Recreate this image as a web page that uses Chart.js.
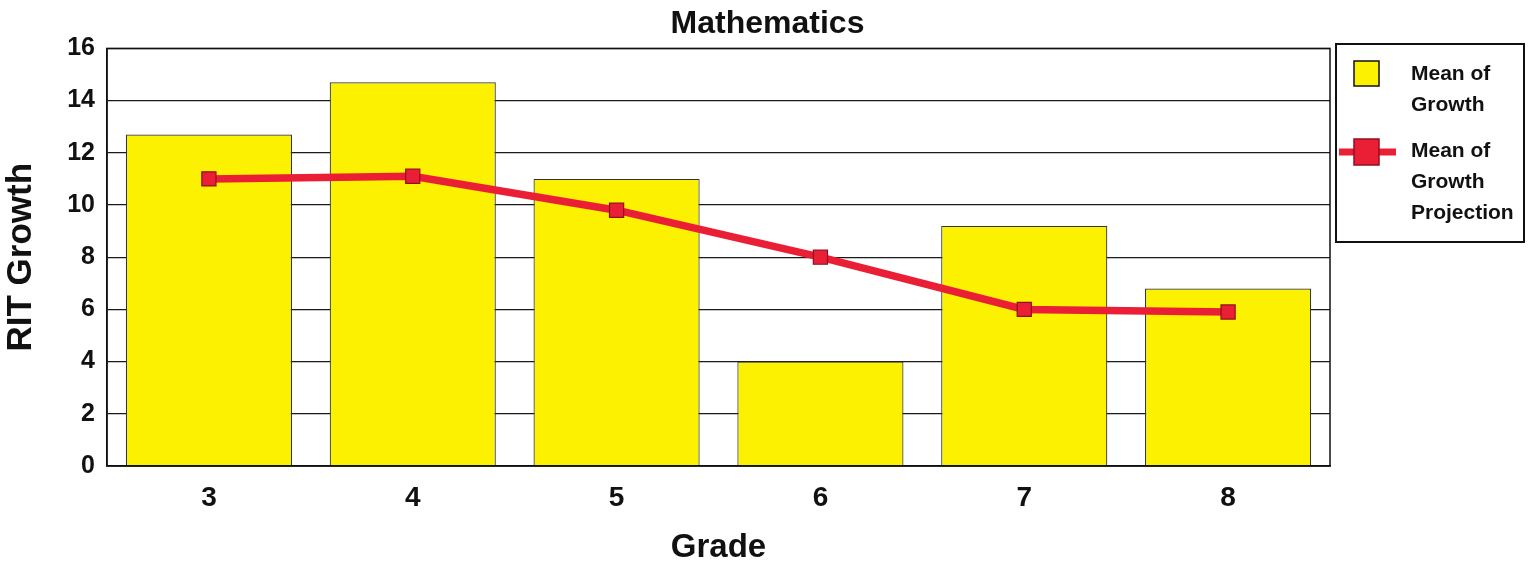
<!DOCTYPE html>
<html>
<head>
<meta charset="utf-8">
<script src="https://cdn.jsdelivr.net/npm/chart.js@4/dist/chart.umd.min.js"></script>
<style>
  html, body { margin: 0; padding: 0; background: #fff; }
  #wrap { width: 1535px; height: 565px; }
</style>
</head>
<body>
<div id="wrap"><canvas id="mathChart" width="1535" height="565"></canvas></div>
<script>
const grades = ['3', '4', '5', '6', '7', '8'];
const meanGrowth = [12.7, 14.7, 11.0, 4.0, 9.2, 6.8];
const meanProjection = [11.0, 11.1, 9.8, 8.0, 6.0, 5.9];
const yTickValues = [0, 2, 4, 6, 8, 10, 12, 14, 16];
const seriesNames = ['Mean of Growth', 'Mean of Growth Projection'];
const legendLines = [['Mean of', 'Growth'], ['Mean of', 'Growth', 'Projection']];

const FONT = '"Liberation Sans", Arial, sans-serif';
const YELLOW = '#fbf100';
const RED = '#ea1f35';

const whiteBg = {
  id: 'whiteBg',
  beforeDraw(chart) {
    const ctx = chart.ctx;
    ctx.save();
    ctx.fillStyle = '#fff';
    ctx.fillRect(0, 0, chart.width, chart.height);
    ctx.restore();
  }
};

// box round the plot and the boxed legend on the right
const frameAndLegend = {
  id: 'frameAndLegend',
  afterDraw(chart) {
    const ctx = chart.ctx;
    const a = chart.chartArea;
    ctx.save();
    ctx.strokeStyle = '#111';
    ctx.lineWidth = 1.5;
    ctx.strokeRect(a.left, a.top, a.right - a.left, a.bottom - a.top);

    const bx = a.right + 6, by = 44, bw = 188, bh = 198;
    ctx.lineWidth = 2;
    ctx.strokeRect(bx, by, bw, bh);

    ctx.font = 'bold 21px ' + FONT;
    ctx.fillStyle = '#111';
    ctx.textBaseline = 'middle';
    ctx.textAlign = 'left';
    const textX = bx + 75;
    const starts = [74, 151];
    chart.data.datasets.forEach((ds) => {
      const idx = seriesNames.indexOf(ds.label);
      const cy = starts[idx];
      if (ds.type === 'line') {
        ctx.strokeStyle = ds.borderColor;
        ctx.lineWidth = 7;
        ctx.beginPath();
        ctx.moveTo(bx + 3, cy + 1);
        ctx.lineTo(bx + 60, cy + 1);
        ctx.stroke();
        ctx.fillStyle = ds.pointBackgroundColor;
        ctx.fillRect(bx + 18, cy - 12, 25, 26);
        ctx.strokeStyle = ds.pointBorderColor;
        ctx.lineWidth = 1.5;
        ctx.strokeRect(bx + 18, cy - 12, 25, 26);
      } else {
        ctx.fillStyle = ds.backgroundColor;
        ctx.fillRect(bx + 18, cy - 13, 25, 25);
        ctx.strokeStyle = '#111';
        ctx.lineWidth = 1.5;
        ctx.strokeRect(bx + 18, cy - 13, 25, 25);
      }
      ctx.fillStyle = '#111';
      legendLines[idx].forEach((t, j) => {
        ctx.fillText(t, textX, cy + j * 31);
      });
    });
    ctx.restore();
  }
};

new Chart(document.getElementById('mathChart'), {
  data: {
    labels: grades,
    datasets: [
      {
        type: 'line',
        label: seriesNames[1],
        data: meanProjection,
        order: 0,
        borderColor: RED,
        borderWidth: 7.5,
        pointStyle: 'rect',
        pointRadius: 10,
        pointBackgroundColor: RED,
        pointBorderColor: '#8e1020',
        pointBorderWidth: 1.2,
        tension: 0
      },
      {
        type: 'bar',
        label: seriesNames[0],
        data: meanGrowth,
        order: 1,
        backgroundColor: YELLOW,
        borderColor: '#333',
        borderWidth: 1.2,
        barPercentage: 0.815,
        categoryPercentage: 1
      }
    ]
  },
  options: {
    responsive: false,
    devicePixelRatio: 1,
    animation: false,
    layout: { padding: 0 },
    plugins: {
      legend: { display: false },
      tooltip: { enabled: false },
      title: {
        display: true,
        text: 'Mathematics',
        color: '#111',
        font: { family: FONT, size: 32, weight: 'bold', lineHeight: 1.2 },
        padding: { top: 5, bottom: 5 }
      }
    },
    scales: {
      x: {
        grid: { display: false, drawTicks: false },
        border: { display: true, color: '#111', width: 1.5 },
        ticks: {
          color: '#111',
          padding: 15,
          font: { family: FONT, size: 28, weight: 'bold' }
        },
        title: {
          display: true,
          text: 'Grade',
          color: '#111',
          font: { family: FONT, size: 33, weight: 'bold', lineHeight: 1 },
          padding: { top: 0, bottom: 1 }
        },
        afterFit(s) { s.height = 99; }
      },
      y: {
        position: 'left',
        min: 0,
        max: 16,
        afterBuildTicks(s) { s.ticks = yTickValues.map(v => ({ value: v })); },
        grid: { color: '#1a1a1a', lineWidth: 1.3, drawTicks: false },
        border: { display: true, color: '#111', width: 1.5 },
        ticks: {
          color: '#111',
          padding: 12,
          font: { family: FONT, size: 25, weight: 'bold' }
        },
        title: {
          display: true,
          text: 'RIT Growth',
          color: '#111',
          font: { family: FONT, size: 35, weight: 'bold', lineHeight: 1.2 },
          padding: 0
        },
        afterFit(s) { s.width = 107; }
      },
      spacer: {
        type: 'linear',
        position: 'right',
        display: true,
        grid: { display: false, drawTicks: false },
        border: { display: false },
        ticks: { display: false },
        afterFit(s) { s.width = 205; }
      }
    }
  },
  plugins: [whiteBg, frameAndLegend]
});
</script>
</body>
</html>
